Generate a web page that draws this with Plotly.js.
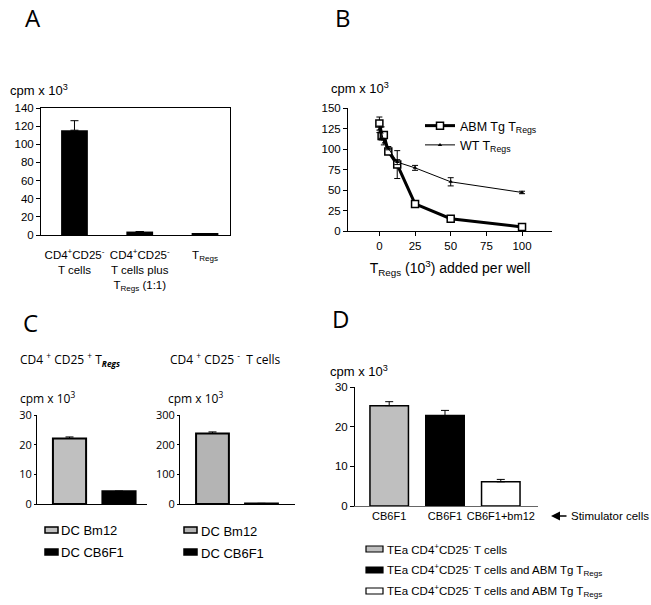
<!DOCTYPE html>
<html>
<head>
<meta charset="utf-8">
<script src="https://cdn.plot.ly/plotly-3.0.1.min.js"></script>
<style>html,body{margin:0;padding:0;background:#fff}</style>
</head>
<body>
<div id="chart" style="width:651px;height:605px"></div>
<script>
// ---- data ----

// panel A
var aLabels = ['CD4<sup>+</sup>CD25<sup>-</sup><br>T cells',
               'CD4<sup>+</sup>CD25<sup>-</sup><br>T cells plus<br>T<sub>Regs</sub> (1:1)',
               'T<sub>Regs</sub>'];
var aValues = [115.5, 3.8, 1.2];
var aErrors = [10.5, 0, 0];

// panel B
var bDose = [0, 1.56, 3.125, 6.25, 12.5, 25, 50, 100];
var bAbm = [131, 116, 117, 97, 81, 33, 15, 5];
var bAbmErr = [8, 5, 4, 2, 17, 2, 1, 1];
var bWt = [124, 120, 108, 101, 84, 77, 60, 47];
var bWtErr = [4, 7, 3, 2, 3, 3, 5, 1.5];
var bNames = ['ABM Tg T<sub>Regs</sub>', 'WT T<sub>Regs</sub>'];
var bTicks = [0, 25, 50, 75, 100];

// panel C
var cGroups = ['DC Bm12', 'DC CB6F1'];
var cTregValues = [22.1, 4.3];
var cTregErrors = [0.5, 0];
var cTcellValues = [238, 2];
var cTcellErrors = [5, 0];

// panel D
var dStim = ['CB6F1', 'CB6F1', 'CB6F1+bm12'];
var dValues = [25.3, 22.8, 6.1];
var dErrors = [1.0, 1.3, 0.6];
var dNames = ['TEa CD4<sup>+</sup>CD25<sup>-</sup> T cells',
              'TEa CD4<sup>+</sup>CD25<sup>-</sup> T cells and ABM Tg T<sub>Regs</sub>',
              'TEa CD4<sup>+</sup>CD25<sup>-</sup> T cells and ABM Tg T<sub>Regs</sub>'];

// ---- helpers ----
var W = 651, H = 605;
function px(x) { return x / W; }
function py(y) { return 1 - y / H; }

var ARIAL = 'Arial, Liberation Sans, sans-serif';
var MYRIAD = 'Open Sans, sans-serif';

function errBars(arr) {
    return {type: 'data', symmetric: false, array: arr,
            arrayminus: arr.map(function(){ return 0; }),
            color: 'black', thickness: 1, width: 4};
}

function axis(extra) {
    var a = {
        showline: true, linecolor: 'black', linewidth: 1,
        ticks: 'outside', ticklen: 4, tickcolor: 'black', tickwidth: 1,
        showgrid: false, zeroline: false, tickangle: 0,
        tickfont: {family: ARIAL, size: 11.5, color: 'black'}
    };
    for (var k in extra) a[k] = extra[k];
    return a;
}

function label(text, x, y, size, family, anchor) {
    return {text: text, x: px(x), y: py(y), xref: 'paper', yref: 'paper',
            xanchor: anchor || 'left', yanchor: 'middle', showarrow: false,
            font: {family: family || ARIAL, size: size, color: 'black'}};
}

var idx = function(arr) { return arr.map(function(d, i){ return i; }); };

// ---- traces ----
var data = [];

// A
data.push({type: 'bar', x: idx(aValues), y: aValues, width: 0.41,
           marker: {color: 'black'}, error_y: errBars(aErrors),
           xaxis: 'x', yaxis: 'y', showlegend: false});

// B
data.push({type: 'scatter', mode: 'lines+markers', x: bDose, y: bAbm, name: bNames[0],
           line: {color: 'black', width: 3},
           marker: {symbol: 'square', size: 7, color: 'white', line: {color: 'black', width: 1.5}},
           error_y: {type: 'data', array: bAbmErr, color: 'black', thickness: 1, width: 3},
           xaxis: 'x2', yaxis: 'y2'});
data.push({type: 'scatter', mode: 'lines+markers', x: bDose, y: bWt, name: bNames[1],
           line: {color: 'black', width: 1},
           marker: {symbol: 'triangle-up', size: 4, color: 'black'},
           error_y: {type: 'data', array: bWtErr, color: 'black', thickness: 1, width: 3},
           xaxis: 'x2', yaxis: 'y2'});

// C
var cColorsL = ['#c0c0c0', 'black'];
var cColorsR = ['#b4b4b4', 'black'];
data.push({type: 'bar', x: idx(cTregValues), y: cTregValues, width: 0.67,
           marker: {color: cColorsL, line: {color: 'black', width: 2}},
           error_y: errBars(cTregErrors), xaxis: 'x3', yaxis: 'y3', showlegend: false});
data.push({type: 'bar', x: idx(cTcellValues), y: cTcellValues, width: 0.67,
           marker: {color: cColorsR, line: {color: 'black', width: 2}},
           error_y: errBars(cTcellErrors), xaxis: 'x4', yaxis: 'y4', showlegend: false});

// D
var dColors = ['#bfbfbf', 'black', 'white'];
data.push({type: 'bar', x: idx(dValues), y: dValues, width: 0.69,
           marker: {color: dColors, line: {color: 'black', width: 1.5}},
           error_y: errBars(dErrors), xaxis: 'x5', yaxis: 'y5', showlegend: false});

// ---- annotations and legend swatches ----
var ann = [];
var shapes = [];

ann.push(label('A', 33, 17, 24, MYRIAD, 'center'));
ann.push(label('B', 343, 17, 24, MYRIAD, 'center'));
ann.push(label('C', 30, 322, 24, MYRIAD, 'center'));
ann.push(label('D', 340, 318, 24, MYRIAD, 'center'));

ann.push(label('cpm x 10<sup>3</sup>', 8, 90, 13));
ann.push(label('cpm x 10<sup>3</sup>', 329, 88, 13));
ann.push(label('cpm x 10<sup>3</sup>', 18, 398, 12, MYRIAD));
ann.push(label('cpm x 10<sup>3</sup>', 166, 398, 12, MYRIAD));
ann.push(label('cpm x 10<sup>3</sup>', 328, 371, 13));

ann.push(label('CD4 <sup>+</sup> CD25 <sup>+</sup> T<sub><b><i>Regs</i></b></sub>', 18, 359, 12, MYRIAD));
ann.push(label('CD4 <sup>+</sup> CD25 <sup>-</sup>  T cells', 168, 359, 12, MYRIAD));

// D stimulator arrow
ann.push({x: px(551), y: py(516), xref: 'paper', yref: 'paper', ax: 17, ay: 0,
          text: '', showarrow: true, arrowhead: 2, arrowsize: 1.2, arrowwidth: 1.5, arrowcolor: 'black'});
ann.push(label('Stimulator cells', 651, 516, 11.5, ARIAL, 'right'));

// C legends
function swatch(x0, x1, yc, h, fill, lw) {
    shapes.push({type: 'rect', xref: 'paper', yref: 'paper',
                 x0: px(x0), x1: px(x1), y0: py(yc + h / 2), y1: py(yc - h / 2),
                 fillcolor: fill, line: {color: 'black', width: lw}});
}
var cRows = [530, 552];
cGroups.forEach(function(g, i) {
    swatch(45, 58, cRows[i], 6, cColorsL[i], 1.5);
    ann.push(label(g, 59, cRows[i], 13, ARIAL));
    swatch(184, 197, cRows[i], 6, cColorsR[i], 1.5);
    ann.push(label(g, 199, cRows[i] + 1, 13, ARIAL));
});

// D legend
var dRows = [549, 570, 591];
dNames.forEach(function(n, i) {
    swatch(366, 383, dRows[i], 6, dColors[i], 1.2);
    ann.push(label(n, 385, dRows[i], 11.5, ARIAL));
});

// ---- layout ----
var layout = {
    width: W, height: H,
    margin: {l: 0, r: 0, t: 0, b: 0},
    paper_bgcolor: 'white', plot_bgcolor: 'white',
    font: {family: ARIAL, color: 'black'},
    showlegend: true,
    legend: {x: px(420), y: py(111), xanchor: 'left', yanchor: 'top',
             bgcolor: 'rgba(0,0,0,0)', font: {family: ARIAL, size: 12.5},
             tracegroupgap: 0},

    // A
    xaxis: axis({domain: [px(41), px(230)], anchor: 'y', range: [-0.513, 2.383],
                 mirror: true, ticks: '', tickvals: idx(aLabels), ticktext: aLabels,
                 ticklabelstandoff: 9}),
    yaxis: axis({domain: [py(235), py(108)], anchor: 'x', range: [0, 140], dtick: 20,
                 mirror: true}),

    // B
    xaxis2: axis({domain: [px(348), px(552)], anchor: 'y2', range: [-22, 121],
                  tickvals: bTicks,
                  title: {text: 'T<sub>Regs</sub> (10<sup>3</sup>) added per well',
                          font: {family: ARIAL, size: 14}, standoff: 12}}),
    yaxis2: axis({domain: [py(231), py(108)], anchor: 'x2', range: [0, 150], dtick: 25}),

    // C left
    xaxis3: axis({domain: [px(37), px(147)], anchor: 'y3', range: [-0.657, 1.566],
                  ticks: '', showticklabels: false}),
    yaxis3: axis({domain: [py(504), py(415)], anchor: 'x3', range: [0, 30], dtick: 10,
                  ticklen: 2, tickfont: {family: MYRIAD, size: 11}}),

    // C right
    xaxis4: axis({domain: [px(180), px(295)], anchor: 'y4', range: [-0.663, 1.684],
                  ticks: '', showticklabels: false}),
    yaxis4: axis({domain: [py(504), py(415)], anchor: 'x4', range: [0, 300], dtick: 100,
                  ticklen: 2, tickfont: {family: MYRIAD, size: 11}}),

    // D
    xaxis5: axis({domain: [px(355), px(538)], anchor: 'y5', range: [-0.613, 2.667],
                  ticks: '', linecolor: '#666', tickvals: idx(dStim), ticktext: dStim,
                  tickfont: {family: ARIAL, size: 11, color: 'black'}}),
    yaxis5: axis({domain: [py(506), py(387)], anchor: 'x5', range: [0, 30], dtick: 10}),

    annotations: ann,
    shapes: shapes
};

Plotly.newPlot('chart', data, layout, {displayModeBar: false});
</script>
</body>
</html>
